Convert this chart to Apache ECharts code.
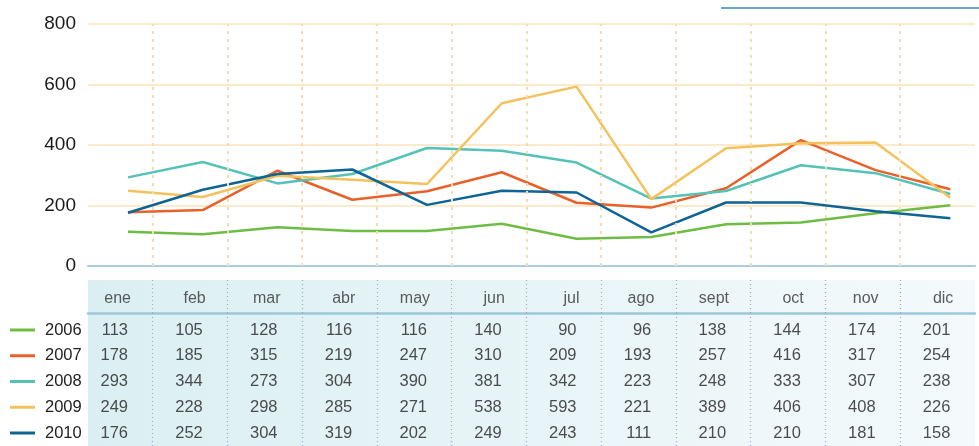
<!DOCTYPE html>
<html><head><meta charset="utf-8">
<script src="https://cdn.jsdelivr.net/npm/echarts@6/dist/echarts.min.js"></script>
<style>html,body{margin:0;padding:0;background:#fff}#c{width:979px;height:446px}</style>
</head><body><div id="c"></div>
<script>
const months = ['ene','feb','mar','abr','may','jun','jul','ago','sept','oct','nov','dic'];
const years = ['2006','2007','2008','2009','2010'];
const v2006 = [113,105,128,116,116,140,90,96,138,144,174,201];
const v2007 = [178,185,315,219,247,310,209,193,257,416,317,254];
const v2008 = [293,344,273,304,390,381,342,223,248,333,307,238];
const v2009 = [249,228,298,285,271,538,593,221,389,406,408,226];
const v2010 = [176,252,304,319,202,249,243,111,210,210,181,158];
const yTicks = [0,200,400,600,800];

const seriesValues = [v2006, v2007, v2008, v2009, v2010];
const colors = ['#6dbd45','#e8612a','#55c2b7','#f4c25c','#0e6595'];
const NARROW = '"Liberation Sans Narrow","Arial Narrow","Liberation Sans",sans-serif';
const SEP_OFFSET = 0.33;
const seps = months.slice(0, -1).map((_, i) => ({ xAxis: i + SEP_OFFSET }));
const X_MIN = -0.535, X_MAX = 11.33;

const tableBg = { type:'linear', x:0, y:0, x2:1, y2:0,
  colorStops:[{offset:0,color:'#dbeff3'},{offset:1,color:'#f4fafc'}] };

function xAx(idx, extra) {
  return Object.assign({ type:'value', gridIndex: idx, min: X_MIN, max: X_MAX,
    axisLabel:{show:false}, axisTick:{show:false}, splitLine:{show:false},
    axisLine:{show:false, onZero:false} }, extra || {});
}

const tableMark = { silent:true, symbol:['none','none'], label:{show:false},
  lineStyle:{ color:'#a9a2cf', type:[1,3], width:1.2 }, data: seps };

const series = [];
years.forEach((y, k) => {
  series.push({
    name: y, type:'line', xAxisIndex:0, yAxisIndex:0,
    data: seriesValues[k].map((v, i) => [i, v]),
    symbol:'none', lineStyle:{ width:2.5, color: colors[k] }, itemStyle:{ color: colors[k] },
    z: 3
  });
});
// vertical dotted guides in plot
series.push({
  type:'line', xAxisIndex:0, yAxisIndex:0, data:[[0,0]], symbol:'none',
  lineStyle:{ width:0, opacity:0 }, z:1,
  markLine:{ silent:true, symbol:['none','none'], label:{show:false},
    lineStyle:{ color:'#f6dcaa', type:[3,5], width:2 }, data: seps }
});
// header row
series.push({
  type:'scatter', xAxisIndex:1, yAxisIndex:1, symbolSize:1,
  itemStyle:{ color:'rgba(0,0,0,0)' },
  data: months.map((m, i) => [i, 0]),
  label:{ show:true, position:'inside', align:'right', verticalAlign:'middle', offset:[3,2],
    formatter: p => months[p.dataIndex], fontSize:16, color:'#333', fontFamily: NARROW },
  markLine: tableMark
});
// body rows
const bodyData = [];
seriesValues.forEach((vals, r) => vals.forEach((v, i) => bodyData.push([i, r, v])));
series.push({
  type:'scatter', xAxisIndex:2, yAxisIndex:2, symbolSize:1,
  itemStyle:{ color:'rgba(0,0,0,0)' },
  data: bodyData,
  label:{ show:true, position:'inside', align:'right', verticalAlign:'middle',
    formatter: p => String(p.value[2]), fontSize:16.5, color:'#222', fontFamily: NARROW },
  markLine: tableMark
});

const chart = echarts.init(document.getElementById('c'), null, { renderer:'canvas' });
chart.setOption({
  animation:false,
  backgroundColor:'#ffffff',
  grid:[
    { left:88, right:4, top:24, height:242 },
    { left:88, right:4, top:280, height:33, show:true, backgroundColor: tableBg, borderWidth:0 },
    { left:88, right:4, top:313, bottom:0, show:true, backgroundColor: tableBg, borderWidth:0 }
  ],
  xAxis:[
    xAx(0, { position:'bottom', axisLine:{ show:true, onZero:false, lineStyle:{ color:'#a9cce0', width:2 } } }),
    xAx(1),
    xAx(2, { position:'top', axisLine:{ show:true, onZero:false, lineStyle:{ color:'#9dc8dc', width:2.5 } } })
  ],
  yAxis:[
    { type:'value', gridIndex:0, min: yTicks[0], max: yTicks[yTicks.length-1], interval: yTicks[1]-yTicks[0],
      axisLine:{show:false}, axisTick:{show:false},
      axisLabel:{ fontSize:19, color:'#1a1a1a', margin:12, fontFamily:'"Liberation Sans",sans-serif' },
      splitLine:{ lineStyle:{ color:'#f8e4bd', width:1.5 } } },
    { type:'value', gridIndex:1, min:-1, max:1, show:false },
    { type:'value', gridIndex:2, inverse:true, min:-0.66, max:4.505, show:false }
  ],
  legend:{
    data: years, orient:'vertical', left:10, top:320, padding:0,
    itemWidth:25, itemHeight:3, itemGap:5.75, icon:'rect',
    textStyle:{ fontSize:16.5, lineHeight:20, color:'#222', fontFamily: NARROW, padding:[0,0,0,5] },
    selectedMode:false
  },
  graphic:[
    { type:'line', shape:{ x1:721, y1:8, x2:979, y2:8 }, style:{ stroke:'#6ba7cc', lineWidth:2 } }
  ],
  series: series
});
</script></body></html>
